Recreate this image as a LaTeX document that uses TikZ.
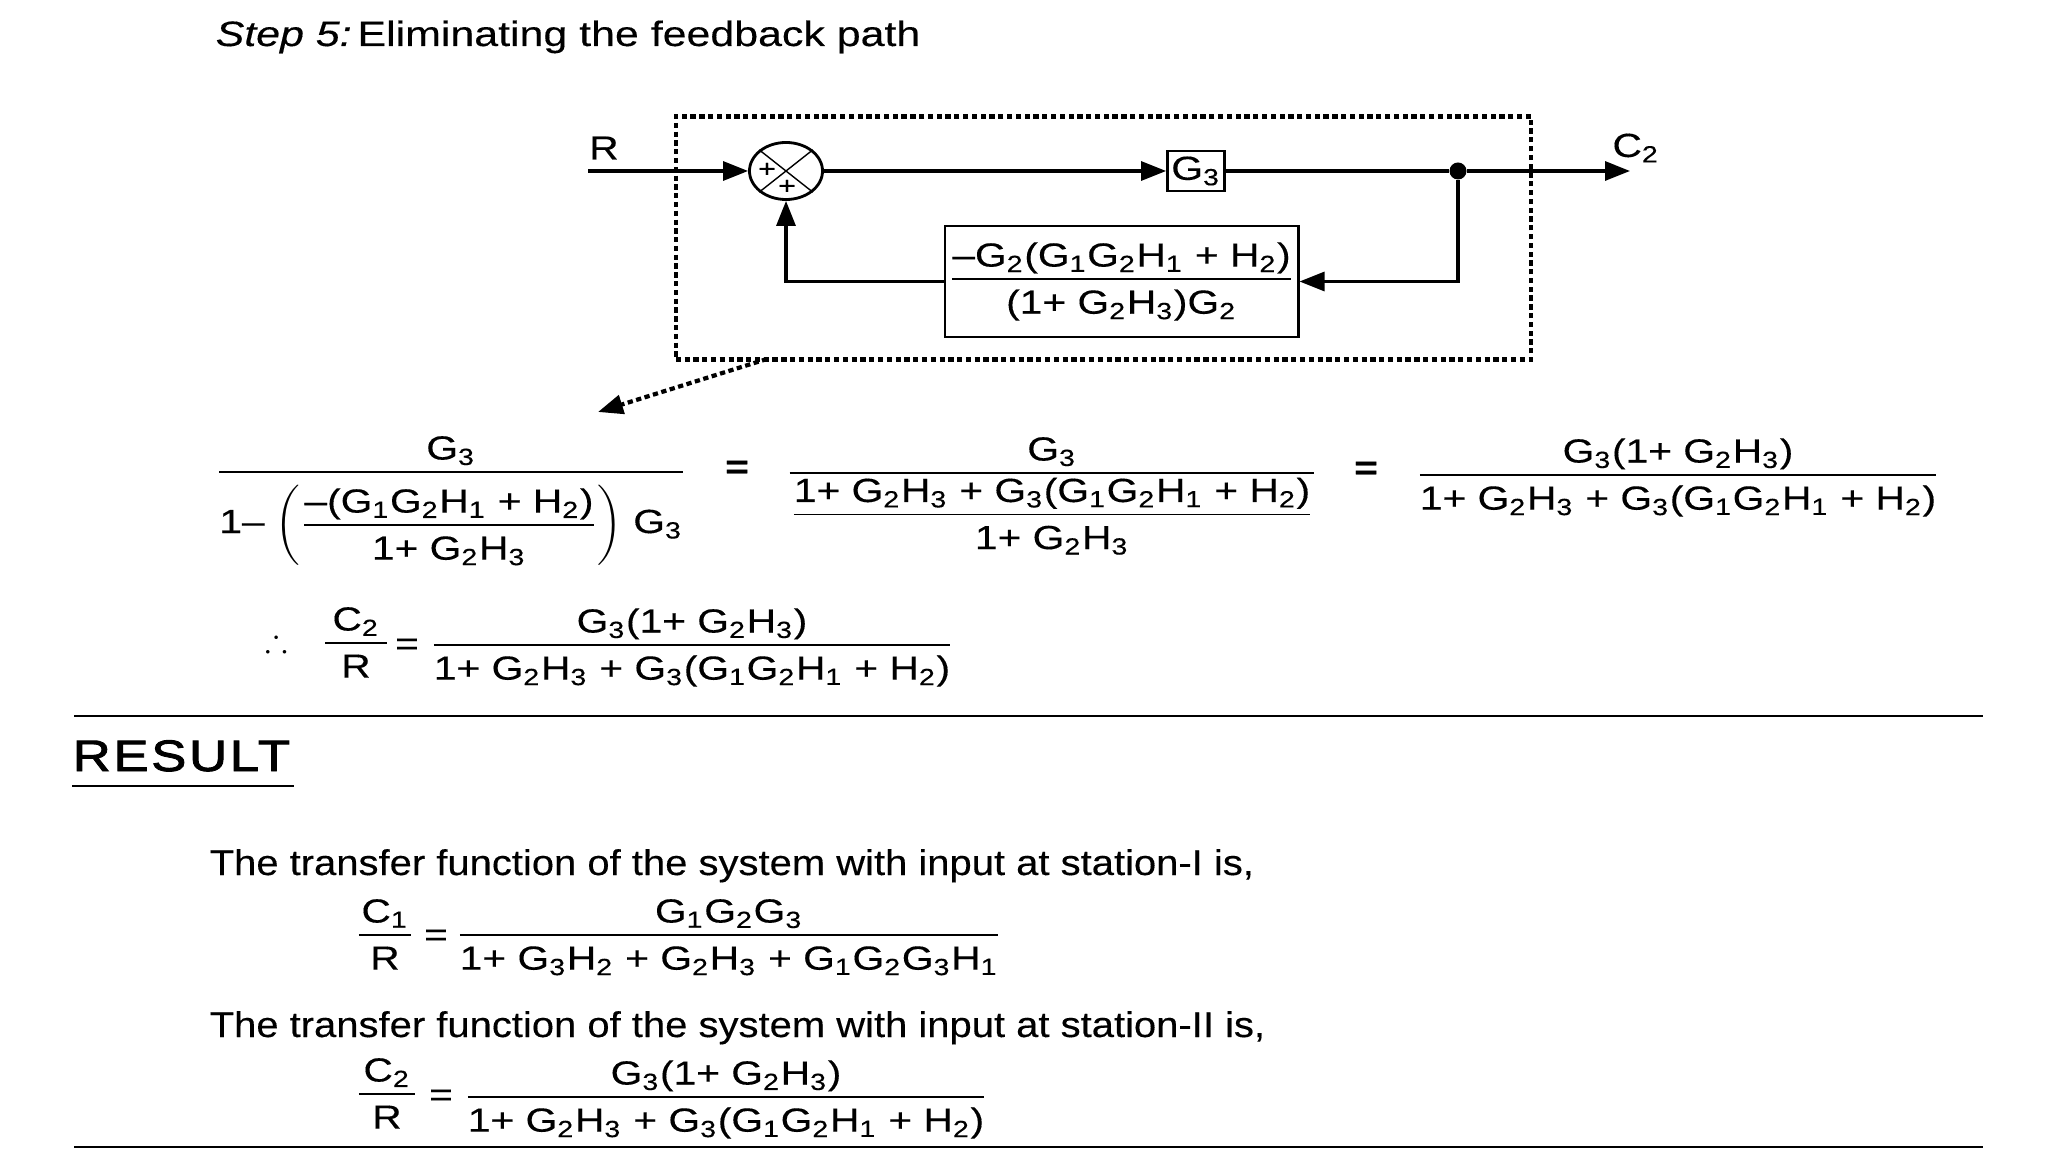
\documentclass[tikz,border=0pt]{standalone}
\usepackage{amsmath,amssymb}
\usepackage{fontspec}
\setmainfont[FakeStretch=1.22,FakeBold=0.3]{Liberation Sans}
\newfontfamily\bodyfont[FakeStretch=1.12,FakeBold=0.3]{Liberation Sans}
\newfontfamily\headfont[FakeStretch=1.2,FakeBold=2,LetterSpace=6]{Liberation Sans}
\usetikzlibrary{arrows.meta,positioning,shapes.geometric}
\newcommand{\s}[1]{\textsubscript{#1}}
\newcommand{\dstrut}{\rule{0pt}{8.5pt}}
\newcommand{\inner}{(G\s1G\s2H\s1 + H\s2)}
\newcommand{\oneGH}{1+ G\s2H\s3}
\newcommand{\fulldenom}{\oneGH{} + G\s3\inner}
\newcommand{\ff}[2]{$\dfrac{\mbox{#1}}{\dstrut\mbox{#2}}$}
\begin{document}
\begin{tikzpicture}[x=0.01cm,y=-0.01cm,>={Triangle[length=0.25cm,width=0.19cm]},
  every node/.style={font=\fontsize{9.5}{11.5}\selectfont,align=center},
  eqn/.style={anchor=base,inner sep=0pt},
  para/.style={anchor=base west,inner sep=0pt,font=\fontsize{10.15}{12}\selectfont\bodyfont},
  blockbox/.style={draw,thick,inner sep=0pt},
  flow/.style={->,line width=0.9pt}]
\useasboundingbox (0,0) rectangle (2048,1152);
\node[para,font=\fontsize{10}{12}\selectfont] (title) at (215,46) {\textit{Step 5:}\,Eliminating the feedback path};

\node[draw,line width=1.2pt,dash pattern=on 1.5pt off 1pt,minimum width=8.55cm,minimum height=2.43cm,inner sep=0pt] (outline) at (1103.5,238) {};
\node (rlabel) at (604,148) {R};
\node (clabel) at (1636,148) {C\s2};
\coordinate (input) at (588,171);
\coordinate (output) at (1630,171);
\node[ellipse,draw,thick,minimum width=0.73cm,minimum height=0.57cm,inner sep=0pt] (sum) at (786,171) {};
\draw (sum.north west)--(sum.south east) (sum.north east)--(sum.south west);
\node[inner sep=0pt,font=\scriptsize] (plusa) at (767,170) {+};
\node[inner sep=0pt,font=\scriptsize] (plusb) at (787,187) {+};
\node[blockbox,minimum width=0.57cm,minimum height=0.40cm] (gthree) at (1196,171) {G\s3};
\node[circle,fill,inner sep=0pt,minimum size=0.17cm] (branch) at (1458,171) {};
\node[blockbox,minimum width=3.53cm,minimum height=1.11cm] (feedback) at (1121.5,281.5)
{\ff{--G\s2\inner}{(\oneGH)G\s2}};
\draw[flow] (input)--(sum.west);
\draw[flow] (sum.east)--(gthree.west);
\draw[line width=0.9pt] (gthree.east)--(branch);
\draw[flow] (branch)--(output);
\draw[flow] (branch)|-(feedback.east);
\draw[flow] (feedback.west)-|(sum.south);
\coordinate (tap) at (767,359);
\coordinate (next) at (598,412);
\draw[->,line width=1.2pt,dash pattern=on 1.5pt off 1pt] (tap)--(next);

\node[eqn] (eqa) at (451,480) {$\dfrac{\mbox{G\s3}}{\rule{0pt}{16pt}\mbox{1--\,}\left(\dfrac{\mbox{--\inner}}{\dstrut\mbox{\oneGH}}\right)\mbox{\,G\s3}}$};
\node[eqn,font=\fontsize{9.5}{11.5}\selectfont\bfseries] (eqsa) at (737,478) {=};
\node[eqn] (eqb) at (1052,481) {$\dfrac{\mbox{G\s3}}{\dfrac{\mbox{\fulldenom}}{\dstrut\mbox{\oneGH}}}$};
\node[eqn,font=\fontsize{9.5}{11.5}\selectfont\bfseries] (eqsb) at (1366,479) {=};
\node[eqn] (eqc) at (1678,483) {\ff{G\s3(\oneGH)}{\fulldenom}};

\node[eqn] (there) at (277,651) {$\therefore$};
\node[eqn] (eqd) at (356,651) {\ff{\makebox[0.61cm]{C\s2}}{R}};
\node[eqn] (eqsd) at (407,655) {=};
\node[eqn] (eqe) at (692,653) {\ff{G\s3(\oneGH)}{\fulldenom}};
\draw[line width=0.7pt] (74,716)--(1983,716);

\node[para,font=\fontsize{12.5}{14}\selectfont\headfont] (result) at (72,771) {RESULT};
\draw[line width=0.7pt] (72,786)--(294,786);

\node[para] (texta) at (209,875) {The transfer function of the system with input at station-I is,};
\node[eqn] (eqf) at (385,943) {\ff{\makebox[0.52cm]{C\s1}}{R}};
\node[eqn] (eqsf) at (436,946) {=};
\node[eqn] (eqg) at (729,943) {\ff{G\s1G\s2G\s3}{1+ G\s3H\s2 + G\s2H\s3 + G\s1G\s2G\s3H\s1}};

\node[para] (textb) at (209,1037) {The transfer function of the system with input at station-II is,};
\node[eqn] (eqh) at (387,1102) {\ff{\makebox[0.56cm]{C\s2}}{R}};
\node[eqn] (eqsh) at (441,1106) {=};
\node[eqn] (eqi) at (726,1105) {\ff{G\s3(\oneGH)}{\fulldenom}};
\draw[line width=0.7pt] (74,1147)--(1983,1147);
\end{tikzpicture}
\end{document}
